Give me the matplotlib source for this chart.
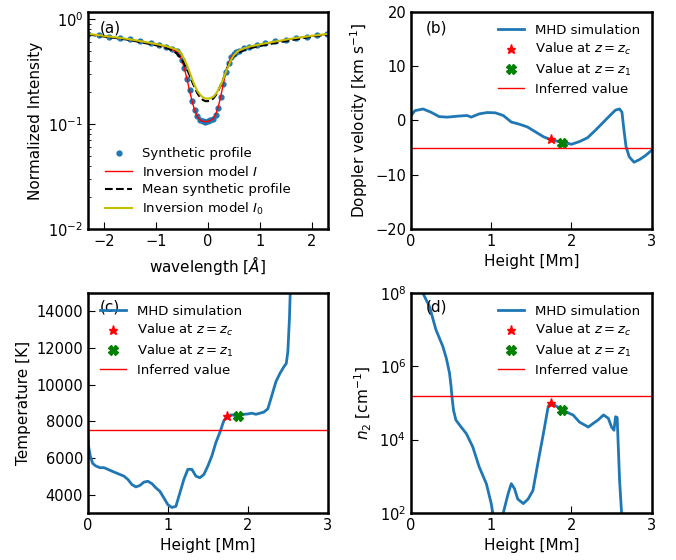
import numpy as np
import matplotlib
matplotlib.use('Agg')
import matplotlib.pyplot as plt
from matplotlib.ticker import NullLocator

# panel (a): line profiles
wl = [-2.3, -2.1, -1.9, -1.7, -1.5, -1.3, -1.1, -0.95, -0.8, -0.7, -0.6, -0.55, -0.5, -0.45,
      -0.4, -0.35, -0.3, -0.25, -0.2, -0.15, -0.1, -0.05, 0.0, 0.05, 0.1, 0.15, 0.2, 0.25,
      0.3, 0.35, 0.4, 0.45, 0.5, 0.55, 0.6, 0.7, 0.8, 0.95, 1.1, 1.3, 1.5, 1.7, 1.9, 2.1, 2.3]
synth = [0.72, 0.70, 0.68, 0.66, 0.64, 0.615, 0.59, 0.57, 0.545, 0.52, 0.49, 0.46, 0.41, 0.34,
         0.27, 0.21, 0.165, 0.135, 0.118, 0.11, 0.106, 0.105, 0.106, 0.108, 0.112, 0.122, 0.142, 0.18,
         0.24, 0.31, 0.38, 0.43, 0.46, 0.485, 0.50, 0.525, 0.545, 0.565, 0.585, 0.61, 0.635, 0.66, 0.68, 0.70, 0.72]
inv_I = [0.715, 0.695, 0.675, 0.655, 0.635, 0.61, 0.585, 0.565, 0.54, 0.515, 0.485, 0.455, 0.405, 0.335,
         0.265, 0.205, 0.162, 0.133, 0.117, 0.109, 0.106, 0.105, 0.106, 0.108, 0.112, 0.123, 0.145, 0.185,
         0.245, 0.315, 0.38, 0.43, 0.46, 0.48, 0.495, 0.52, 0.54, 0.56, 0.58, 0.605, 0.63, 0.655, 0.675, 0.695, 0.715]
mean_synth = [0.71, 0.69, 0.67, 0.65, 0.63, 0.60, 0.575, 0.555, 0.53, 0.505, 0.47, 0.44, 0.41, 0.37,
              0.33, 0.29, 0.25, 0.22, 0.195, 0.18, 0.17, 0.165, 0.165, 0.167, 0.174, 0.187, 0.207, 0.237,
              0.27, 0.32, 0.37, 0.41, 0.44, 0.465, 0.48, 0.505, 0.525, 0.545, 0.565, 0.59, 0.615, 0.64, 0.665, 0.69, 0.71]
inv_I0 = [0.72, 0.70, 0.68, 0.66, 0.64, 0.615, 0.59, 0.57, 0.55, 0.53, 0.51, 0.49, 0.46, 0.41,
          0.36, 0.31, 0.265, 0.23, 0.205, 0.19, 0.18, 0.175, 0.174, 0.176, 0.181, 0.192, 0.21, 0.237,
          0.27, 0.315, 0.36, 0.41, 0.45, 0.48, 0.50, 0.525, 0.545, 0.565, 0.585, 0.61, 0.635, 0.66, 0.68, 0.70, 0.72]

# panel (b): Doppler velocity
z_v = [0.0, 0.05, 0.15, 0.25, 0.35, 0.45, 0.6, 0.7, 0.75, 0.85, 0.95, 1.05, 1.15, 1.25, 1.35, 1.45,
       1.55, 1.65, 1.75, 1.85, 1.95, 2.0, 2.1, 2.2, 2.3, 2.4, 2.5, 2.55, 2.6, 2.63, 2.65, 2.68,
       2.72, 2.78, 2.85, 2.92, 3.0]
vel = [0.9, 1.8, 2.1, 1.5, 0.7, 0.6, 0.8, 0.9, 0.6, 1.2, 1.45, 1.4, 0.9, -0.3, -0.7, -1.2,
       -2.1, -3.0, -3.6, -3.9, -4.2, -4.4, -3.9, -3.2, -1.8, -0.3, 1.2, 1.9, 2.1, 1.5, -1.2, -4.8,
       -6.7, -7.7, -7.2, -6.5, -5.5]
vel_zc, vel_z1, vel_inf = -3.5, -4.1, -5.0

# panel (c): temperature
z_T = [0.0, 0.01, 0.03, 0.06, 0.1, 0.15, 0.2, 0.25, 0.3, 0.4, 0.45, 0.5, 0.55, 0.6, 0.65, 0.7,
       0.75, 0.8, 0.85, 0.9, 0.95, 1.0, 1.05, 1.1, 1.15, 1.2, 1.25, 1.3, 1.35, 1.4, 1.45, 1.5,
       1.55, 1.6, 1.65, 1.7, 1.75, 1.8, 1.85, 1.9, 1.95, 2.0, 2.05, 2.1, 2.15, 2.2, 2.25, 2.3,
       2.35, 2.4, 2.45, 2.48, 2.5, 2.52, 2.53, 2.55]
temp = [7200, 6600, 6100, 5700, 5560, 5470, 5470, 5380, 5280, 5100, 5010, 4830, 4550, 4420, 4500, 4680,
        4730, 4600, 4370, 4180, 3820, 3450, 3300, 3360, 4090, 4830, 5380, 5380, 5010, 4920, 5100, 5560,
        6110, 6840, 7390, 8040, 8310, 8350, 8300, 8310, 8380, 8400, 8440, 8380, 8440, 8500, 8680, 9410,
        10150, 10600, 10970, 11150, 11800, 13630, 15100, 16500]
T_zc, T_z1, T_inf = 8310, 8310, 7540

# panel (d): n2
z_n = [0.0, 0.1, 0.146, 0.23, 0.31, 0.396, 0.44, 0.48, 0.5, 0.51, 0.53, 0.56, 0.625, 0.69, 0.77, 0.85,
       0.94, 1.0, 1.02, 1.08, 1.12, 1.15, 1.21, 1.25, 1.29, 1.33, 1.4, 1.46, 1.52, 1.58, 1.65, 1.71,
       1.74, 1.79, 1.88, 1.98, 2.02, 2.1, 2.21, 2.27, 2.33, 2.4, 2.46, 2.5, 2.53, 2.55, 2.57, 2.6,
       2.625, 2.7, 3.0]
n2 = [6e8, 1.8e8, 1.0e8, 4.3e7, 1.0e7, 3.5e6, 1.66e6, 6.5e5, 2.75e5, 1.5e5, 6.3e4, 3.4e4, 2.2e4, 1.45e4, 6.3e3, 1.8e3,
      6.2e2, 1.8e2, 1.0e2, 2.0e1, 3.0e1, 1.0e2, 3.3e2, 6.3e2, 4.6e2, 2.4e2, 1.8e2, 2.4e2, 4.1e2, 2.2e3, 1.45e4, 7.9e4,
      1.0e5, 8.7e4, 6.6e4, 5.1e4, 4.7e4, 3.0e4, 2.2e4, 2.75e4, 3.4e4, 4.7e4, 3.8e4, 2.2e4, 1.8e4, 4.2e4, 4.0e4, 7.8e2,
      1.0e2, 3.0, 1.0]
n_zc, n_z1, n_inf = 1.0e5, 6.6e4, 1.5e5

z_c, z_1 = 1.74, 1.88

plt.rcParams['font.size'] = 11
plt.rcParams['axes.linewidth'] = 1.8
plt.rcParams['xtick.direction'] = 'in'
plt.rcParams['ytick.direction'] = 'in'
plt.rcParams['xtick.labelsize'] = 10.5
plt.rcParams['ytick.labelsize'] = 10.5
plt.rcParams['xtick.major.size'] = 5
plt.rcParams['ytick.major.size'] = 5
plt.rcParams['ytick.minor.size'] = 2.5
plt.rcParams['mathtext.fontset'] = 'dejavusans'

fig = plt.figure(figsize=(6.76, 5.6), dpi=100)
ax_a = fig.add_axes([0.130, 0.591, 0.355, 0.388])
ax_b = fig.add_axes([0.608, 0.591, 0.356, 0.388])
ax_c = fig.add_axes([0.130, 0.084, 0.355, 0.393])
ax_d = fig.add_axes([0.608, 0.084, 0.356, 0.393])

blue = '#1f77b4'

# (a)
ax_a.plot(wl, synth, 'o', color=blue, ms=3.5, label='Synthetic profile')
ax_a.plot(wl, inv_I, '-', color='red', lw=1.0, label='Inversion model $I$')
ax_a.plot(wl, mean_synth, '--', color='black', lw=1.5, label='Mean synthetic profile')
ax_a.plot(wl, inv_I0, '-', color='#c4c000', lw=1.5, label='Inversion model $I_0$')
ax_a.set_yscale('log')
ax_a.set_ylim(1e-2, 1.17)
ax_a.set_xlim(-2.31, 2.31)
ax_a.set_xlabel(r'wavelength [$\AA$]')
ax_a.set_ylabel('Normalized Intensity')
ax_a.text(0.05, 0.96, '(a)', transform=ax_a.transAxes, va='top', fontsize=11)
ax_a.legend(loc='lower center', bbox_to_anchor=(0.46, 0.0), frameon=False, fontsize=9.5,
            handlelength=2.0, labelspacing=0.35)

def height_panel(ax, z, y, yzc, yz1, yinf):
    ax.plot(z, y, '-', color=blue, lw=2, label='MHD simulation')
    ax.plot([z_c], [yzc], '*', color='red', ms=6.5, label='Value at $z=z_c$')
    ax.plot([z_1], [yz1], 'X', color='green', ms=7, label='Value at $z=z_1$')
    ax.axhline(yinf, color='red', lw=1, label='Inferred value')
    ax.set_xlim(0, 3)
    ax.set_xticks([0, 1, 2, 3])
    ax.set_xlabel('Height [Mm]')

# (b)
height_panel(ax_b, z_v, vel, vel_zc, vel_z1, vel_inf)
ax_b.set_ylim(-20, 20)
ax_b.set_yticks([-20, -10, 0, 10, 20])
ax_b.set_ylabel('Doppler velocity [km s$^{-1}$]')
ax_b.text(0.06, 0.96, '(b)', transform=ax_b.transAxes, va='top', fontsize=11)
ax_b.legend(loc='upper right', frameon=False, fontsize=9.5, labelspacing=0.35)

# (c)
height_panel(ax_c, z_T, temp, T_zc, T_z1, T_inf)
ax_c.set_ylim(3000, 15000)
ax_c.set_yticks([4000, 6000, 8000, 10000, 12000, 14000])
ax_c.set_ylabel('Temperature [K]')
ax_c.text(0.05, 0.97, '(c)', transform=ax_c.transAxes, va='top', fontsize=11)
ax_c.legend(loc='upper left', frameon=False, fontsize=9.5, labelspacing=0.35)

# (d)
height_panel(ax_d, z_n, n2, n_zc, n_z1, n_inf)
ax_d.set_yscale('log')
ax_d.set_ylim(1e2, 1e8)
ax_d.set_yticks([1e2, 1e4, 1e6, 1e8])
ax_d.yaxis.set_minor_locator(NullLocator())
ax_d.set_ylabel('$n_2$ [cm$^{-1}$]')
ax_d.text(0.06, 0.97, '(d)', transform=ax_d.transAxes, va='top', fontsize=11)
ax_d.legend(loc='upper right', frameon=False, fontsize=9.5, labelspacing=0.35)

fig.savefig('out.png', dpi=100)
